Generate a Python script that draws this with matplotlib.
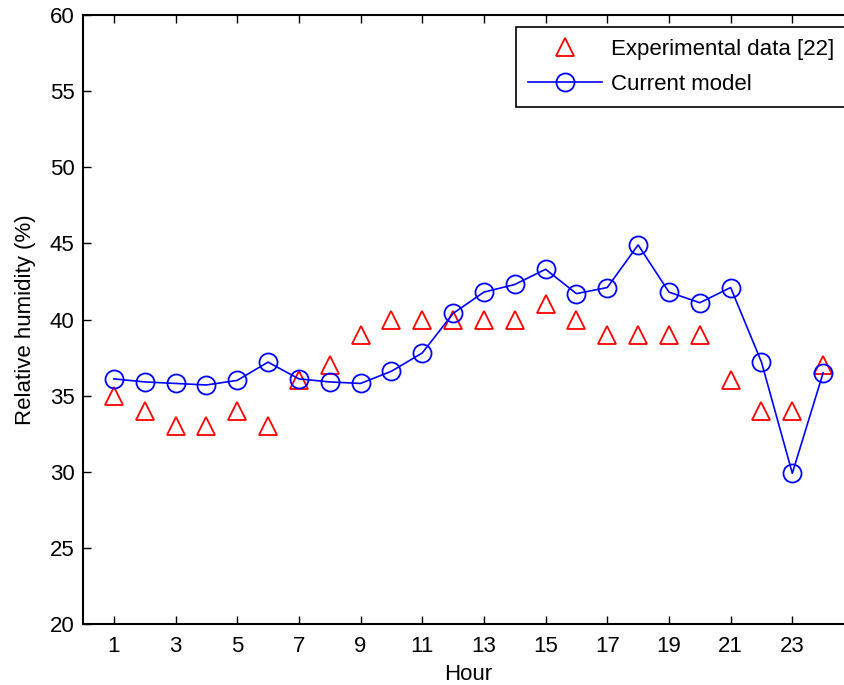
import matplotlib
matplotlib.use("Agg")
import matplotlib.pyplot as plt

plt.rcParams['font.family'] = ['Liberation Sans', 'DejaVu Sans']

hours = list(range(1, 25))
experimental = [35, 34, 33, 33, 34, 33, 36, 37, 39, 40, 40, 40, 40, 40, 41, 40,
                39, 39, 39, 39, 36, 34, 34, 37]
model = [36.1, 35.9, 35.8, 35.7, 36.0, 37.2, 36.1, 35.9, 35.8, 36.6, 37.8, 40.4,
         41.8, 42.3, 43.3, 41.7, 42.1, 44.9, 41.8, 41.1, 42.1, 37.2, 29.9, 36.5]
xticks = list(range(1, 24, 2))
yticks = list(range(20, 61, 5))

fig = plt.figure(figsize=(8.45, 6.85), dpi=100)
ax = fig.add_axes([83/845, 61/685, (854-83)/845, (624-15)/685])

ax.plot(hours, experimental, linestyle='none', marker='^', markersize=13,
        markerfacecolor='none', markeredgecolor='#ff0000', markeredgewidth=1.3,
        label='Experimental data [22]')
ax.plot(hours, model, color='#0000ff', linewidth=1.2, marker='o', markersize=13,
        markerfacecolor='none', markeredgecolor='#0000ff', markeredgewidth=1.3,
        label='Current model')

ax.set_xlim(0, 25)
ax.set_ylim(20, 60)
ax.set_xticks(xticks)
ax.set_yticks(yticks)
ax.tick_params(direction='in', top=True, right=True, length=6, width=1,
               labelsize=16)
ax.tick_params(axis='x', pad=9)
ax.tick_params(axis='y', pad=6)
for s in ax.spines.values():
    s.set_linewidth(1.5)
ax.set_xlabel('Hour', fontsize=16, labelpad=5)
ax.set_ylabel('Relative humidity (%)', fontsize=16, labelpad=10)

leg = ax.legend(loc='upper right', bbox_to_anchor=((846-83)/771, (624-27)/609),
                fontsize=16, fancybox=False, edgecolor='black', framealpha=1,
                handlelength=3.3, handletextpad=0.4, borderpad=0.55,
                borderaxespad=0, labelspacing=0.6)
leg.get_frame().set_linewidth(1.2)

fig.savefig('out.png', dpi=100)
